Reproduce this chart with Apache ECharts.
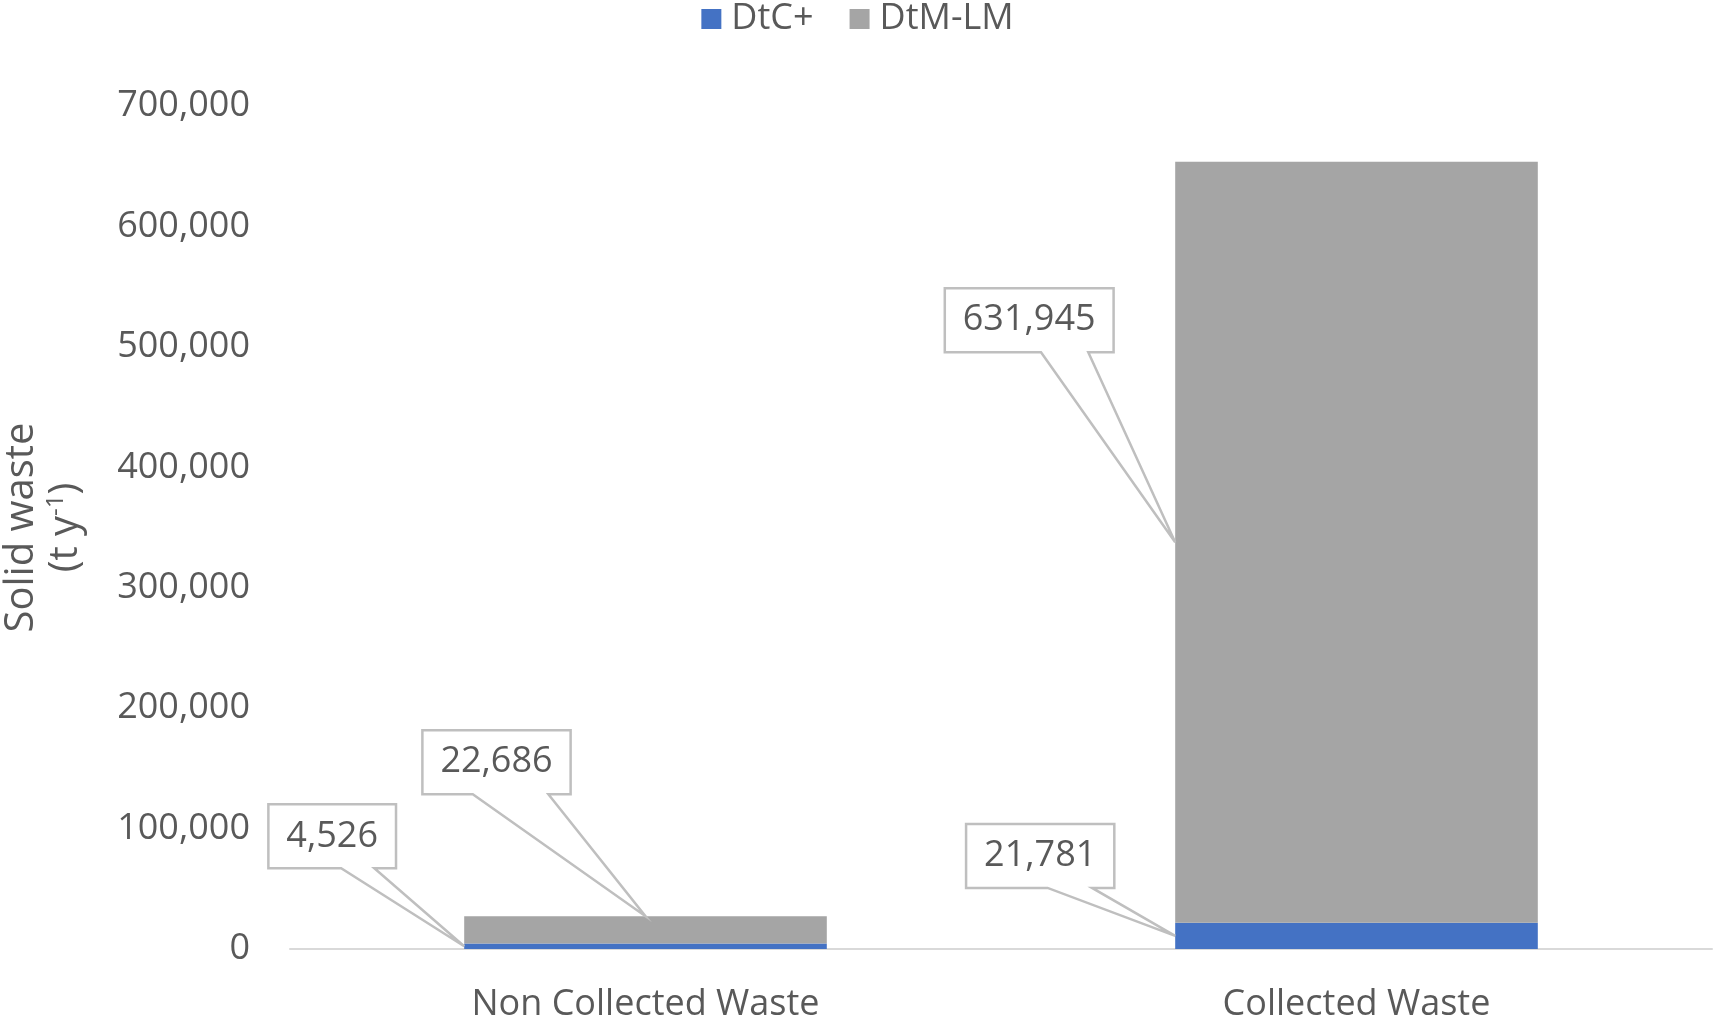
<!DOCTYPE html>
<html>
<head>
<meta charset="utf-8">
<script src="https://cdn.jsdelivr.net/npm/echarts@6/dist/echarts.min.js"></script>
<style>
  html, body { margin: 0; padding: 0; background: #fff; }
  #container { width: 1715px; height: 1019px; }
</style>
</head>
<body>
<div id="container"></div>
<script>
  var categories = ['Non Collected Waste', 'Collected Waste'];
  var dtcPlus = [4526, 21781];
  var dtmLm = [22686, 631945];
  var yMax = 700000;
  var yStep = 100000;

  var FONT = '"Open Sans", "Noto Sans", sans-serif';
  var textColor = '#595959';

  // callout boxes: which bar segment they point to, and where the box sits
  var callouts = [
    { series: 'dtc', cat: 0, edge: 'left', at: 'mid', dx: -132, dy: -110, base: [0.57, 0.83] },
    { series: 'dtm', cat: 0, edge: 'center', at: 'top', dx: -149, dy: -154, base: [0.34, 0.85] },
    { series: 'dtc', cat: 1, edge: 'left', at: 'mid', dx: -135, dy: -80, base: [0.55, 0.85] },
    { series: 'dtm', cat: 1, edge: 'left', at: 'mid', dx: -146, dy: -222, base: [0.57, 0.85] }
  ];

  function fmt(v) {
    return String(v).replace(/\B(?=(\d{3})+(?!\d))/g, ',');
  }

  var ctx = document.createElement('canvas').getContext('2d');
  ctx.font = '36px ' + FONT;
  function textWidth(t) { return ctx.measureText(t).width; }

  var calloutData = callouts.map(function (c) {
    var base = c.series === 'dtc' ? 0 : dtcPlus[c.cat];
    var val = c.series === 'dtc' ? dtcPlus[c.cat] : dtmLm[c.cat];
    var y = c.at === 'top' ? base + val : base + val / 2;
    return [c.cat, y, val];
  });

  var dom = document.getElementById('container');
  var myChart = echarts.init(dom);

  var option = {
    animation: false,
    textStyle: { fontFamily: FONT },
    legend: {
      data: ['DtC+', 'DtM-LM'],
      top: -4,
      left: 'center',
      itemWidth: 20,
      itemHeight: 20,
      itemGap: 36,
      icon: 'rect',
      textStyle: { fontSize: 36, color: textColor, fontFamily: FONT, padding: [0, 0, 0, 5] }
    },
    grid: { left: 290, right: 3, top: 106, bottom: 70, containLabel: false, outerBoundsMode: 'none' },
    xAxis: {
      type: 'category',
      data: categories,
      axisLine: { lineStyle: { color: '#D9D9D9', width: 2 } },
      axisTick: { show: false },
      axisLabel: { fontSize: 36, color: textColor, fontFamily: FONT, margin: 38 }
    },
    yAxis: {
      type: 'value',
      min: 0,
      max: yMax,
      interval: yStep,
      splitLine: { show: false },
      axisLine: { show: false },
      axisTick: { show: false },
      axisLabel: {
        fontSize: 36, color: textColor, fontFamily: FONT, margin: 40,
        formatter: function (v) { return fmt(v); }
      },
      name: '{a|Solid waste}\n{a|(t y}{sup|-1}{a|)}',
      nameLocation: 'middle',
      nameRotate: 90,
      nameGap: 202,
      nameTextStyle: {
        color: textColor,
        fontSize: 40,
        rich: {
          a: { fontSize: 40, color: textColor, fontFamily: FONT, lineHeight: 44 },
          sup: { fontSize: 24, color: textColor, fontFamily: FONT, lineHeight: 44, verticalAlign: 'top', padding: [0, 0, 14, 0] }
        }
      }
    },
    series: [
      {
        name: 'DtC+', type: 'bar', stack: 'total', barWidth: '51%',
        itemStyle: { color: '#4472C4' },
        data: dtcPlus
      },
      {
        name: 'DtM-LM', type: 'bar', stack: 'total', barWidth: '51%',
        itemStyle: { color: '#A5A5A5' },
        data: dtmLm
      },
      {
        name: 'callouts', type: 'custom', z: 10,
        data: calloutData,
        renderItem: function (params, api) {
          var c = callouts[params.dataIndex];
          var p = api.coord([api.value(0), api.value(1)]);
          var bw = api.size([1, 0])[0] * 0.51;
          var ax = c.edge === 'left' ? p[0] - bw / 2 : p[0];
          var ay = p[1];
          var text = fmt(api.value(2));
          var w = textWidth(text) + 36;
          var h = 64;
          var cx = ax + c.dx, cy = ay + c.dy;
          var x0 = cx - w / 2, y0 = cy - h / 2, x1 = cx + w / 2, y1 = cy + h / 2;
          var b1 = x0 + w * c.base[0], b2 = x0 + w * c.base[1];
          return {
            type: 'group',
            children: [
              {
                type: 'polygon',
                shape: { points: [[x0, y0], [x1, y0], [x1, y1], [b2, y1], [ax, ay], [b1, y1], [x0, y1]] },
                style: { fill: '#fff', stroke: '#BFBFBF', lineWidth: 2.5 }
              },
              {
                type: 'text',
                style: {
                  text: text, x: cx, y: cy, align: 'center', verticalAlign: 'middle',
                  font: '36px ' + FONT, fill: textColor
                }
              }
            ]
          };
        }
      }
    ]
  };

  if (option && typeof option === 'object') {
    myChart.setOption(option, true);
  }
</script>
</body>
</html>
